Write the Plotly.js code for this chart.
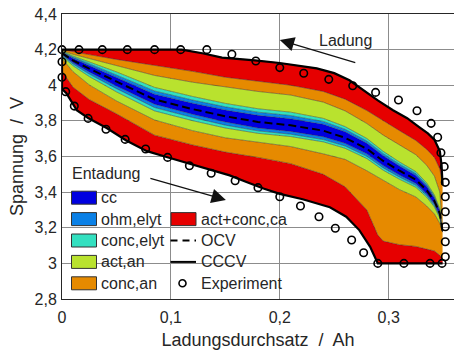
<!DOCTYPE html>
<html><head><meta charset="utf-8">
<script src="https://cdn.plot.ly/plotly-3.0.1.min.js"></script>
<style>html,body{margin:0;padding:0;background:#fff}#chart{width:455px;height:351px}</style>
</head><body><div id="chart"></div>
<script>
// shared x grid (Ah) for band boundaries
const xGrid = [0, 0.01, 0.025, 0.05, 0.085, 0.12, 0.15, 0.18, 0.21, 0.24, 0.26, 0.28, 0.295, 0.31, 0.325, 0.335, 0.342, 0.347, 0.3495];
const ocv   = [4.18, 4.14, 4.093, 4.02, 3.92, 3.866, 3.826, 3.794, 3.775, 3.745, 3.705, 3.643, 3.575, 3.52, 3.47, 3.41, 3.35, 3.28, 3.18];
// upper boundaries (charge side)
const upCc   = [4.186, 4.152, 4.111, 4.045, 3.95, 3.899, 3.861, 3.831, 3.812, 3.781, 3.739, 3.674, 3.604, 3.546, 3.494, 3.432, 3.367, 3.293, 3.182];
const upOhm  = [4.189, 4.158, 4.121, 4.059, 3.968, 3.917, 3.879, 3.849, 3.83, 3.797, 3.753, 3.687, 3.616, 3.557, 3.504, 3.441, 3.375, 3.299, 3.183];
const upConcE= [4.192, 4.164, 4.131, 4.075, 3.988, 3.937, 3.898, 3.868, 3.849, 3.814, 3.768, 3.701, 3.629, 3.569, 3.515, 3.451, 3.384, 3.306, 3.184];
const upActA = [4.195, 4.174, 4.15, 4.11, 4.055, 4.017, 3.99, 3.965, 3.945, 3.905, 3.856, 3.785, 3.72, 3.665, 3.61, 3.55, 3.49, 3.40, 3.185];
const upConcA= [4.2, 4.188, 4.172, 4.145, 4.113, 4.078, 4.045, 4.022, 4.0, 3.965, 3.922, 3.858, 3.8, 3.745, 3.69, 3.64, 3.595, 3.53, 3.44];
// lower boundaries (discharge side)
const loCc   = [4.174, 4.128, 4.075, 3.996, 3.894, 3.837, 3.794, 3.76, 3.741, 3.711, 3.674, 3.615, 3.549, 3.496, 3.449, 3.391, 3.335, 3.27, 3.178];
const loOhm  = [4.169, 4.12, 4.063, 3.981, 3.875, 3.819, 3.776, 3.744, 3.725, 3.695, 3.659, 3.601, 3.536, 3.484, 3.438, 3.381, 3.326, 3.263, 3.177];
const loConcE= [4.164, 4.11, 4.049, 3.963, 3.856, 3.801, 3.76, 3.73, 3.712, 3.682, 3.646, 3.588, 3.523, 3.472, 3.427, 3.371, 3.317, 3.255, 3.176];
const loActA = [4.15, 4.077, 4.002, 3.912, 3.805, 3.745, 3.705, 3.679, 3.656, 3.615, 3.584, 3.52, 3.465, 3.414, 3.373, 3.322, 3.278, 3.225, 3.175];
const loConcAx = [0, 0.01, 0.025, 0.05, 0.085, 0.12, 0.15, 0.18, 0.21, 0.24, 0.26, 0.28, 0.29, 0.295, 0.31, 0.325, 0.335, 0.342, 0.347, 0.3495];
const loConcA  = [4.08, 3.99, 3.92, 3.84, 3.72, 3.665, 3.625, 3.595, 3.56, 3.5, 3.43, 3.30, 3.16, 3.125, 3.105, 3.095, 3.08, 3.07, 3.045, 3.02];
// CCCV simulation curves
const chgX = [0, 0.11, 0.13, 0.147, 0.177, 0.2, 0.234, 0.25, 0.264, 0.275, 0.29, 0.304, 0.317, 0.328, 0.336, 0.342, 0.347, 0.3486, 0.3495];
const chgY = [4.2, 4.2, 4.178, 4.155, 4.14, 4.125, 4.095, 4.068, 4.028, 3.98, 3.915, 3.86, 3.815, 3.765, 3.73, 3.695, 3.63, 3.55, 3.44];
const disX = [0, 0, 0.004, 0.0135, 0.024, 0.041, 0.059, 0.078, 0.096, 0.118, 0.139, 0.154, 0.17, 0.185, 0.2, 0.221, 0.246, 0.261, 0.273, 0.283, 0.29, 0.3495];
const disY = [4.2, 3.98, 3.955, 3.86, 3.816, 3.76, 3.69, 3.63, 3.597, 3.558, 3.518, 3.494, 3.455, 3.42, 3.39, 3.36, 3.315, 3.262, 3.187, 3.093, 3.0, 3.0];
// experiment
const expChgX = [0, 0.0156, 0.037, 0.060, 0.085, 0.109, 0.133, 0.156, 0.178, 0.2, 0.222, 0.245, 0.267, 0.288, 0.309, 0.326, 0.339, 0.345, 0.348, 0.351, 0.352, 0.352, 0.352, 0.352, 0.352, 0.352, 0.349];
const expChgY = [4.2, 4.2, 4.2, 4.2, 4.2, 4.2, 4.2, 4.174, 4.136, 4.099, 4.067, 4.033, 3.997, 3.96, 3.917, 3.857, 3.786, 3.708, 3.621, 3.543, 3.455, 3.374, 3.29, 3.206, 3.121, 3.037, 3.0];
const expDisX = [0, 0, 0.0034, 0.0113, 0.024, 0.0404, 0.058, 0.0768, 0.097, 0.117, 0.137, 0.159, 0.18, 0.2, 0.219, 0.236, 0.251, 0.266, 0.277, 0.29, 0.314, 0.338];
const expDisY = [4.132, 4.045, 3.964, 3.883, 3.814, 3.753, 3.696, 3.642, 3.595, 3.548, 3.506, 3.464, 3.425, 3.374, 3.322, 3.262, 3.197, 3.131, 3.06, 3.0, 3.0, 3.0];
// ticks
const xTickVals = [0, 0.1, 0.2, 0.3];
const xTickText = ['0', '0,1', '0,2', '0,3'];
const yTickVals = [2.8, 3, 3.2, 3.4, 3.6, 3.8, 4, 4.2, 4.4];
const yTickText = ['2,8', '3', '3,2', '3,4', '3,6', '3,8', '4', '4,2', '4,4'];
const legendNames = ['cc', 'ohm,elyt', 'conc,elyt', 'act,an', 'conc,an', 'act+conc,ca', 'OCV', 'CCCV', 'Experiment'];

const C = {cc:'#0000E0', ohm:'#0A80E6', concE:'#33E0C0', actA:'#B9E22E', concA:'#E68A00', ca:'#E60000'};
const edge = {color:'rgba(40,40,40,0.75)', width:0.6};
function band(x, y, color){
  return {x:x, y:y, type:'scatter', mode:'lines', fill:'tonexty', fillcolor:color, line:edge, hoverinfo:'skip', showlegend:false};
}
const traces = [
  {x:disX, y:disY, type:'scatter', mode:'lines', line:{width:0}, hoverinfo:'skip', showlegend:false},
  band(loConcAx, loConcA, C.ca),
  band(xGrid, loActA, C.concA),
  band(xGrid, loConcE, C.actA),
  band(xGrid, loOhm, C.concE),
  band(xGrid, loCc, C.ohm),
  band(xGrid, upCc, C.cc),
  band(xGrid, upOhm, C.ohm),
  band(xGrid, upConcE, C.concE),
  band(xGrid, upActA, C.actA),
  band(xGrid, upConcA, C.concA),
  band(chgX, chgY, C.ca),
  {x:xGrid, y:ocv, type:'scatter', mode:'lines', line:{color:'#000', width:2, dash:'8px,4px'}, showlegend:false},
  {x:chgX, y:chgY, type:'scatter', mode:'lines', line:{color:'#000', width:2.2}, showlegend:false},
  {x:disX, y:disY, type:'scatter', mode:'lines', line:{color:'#000', width:2.2}, showlegend:false},
  {x:expChgX.concat(expDisX), y:expChgY.concat(expDisY), type:'scatter', mode:'markers',
   marker:{symbol:'circle-open', size:7.5, color:'#000', line:{width:1.6, color:'#000'}}, showlegend:false, cliponaxis:false}
];

const font = {family:'"Liberation Sans", Arial, sans-serif', size:16, color:'#262626'};
// legend (drawn in paper space)
const px2x = p => (p - 62) / 392;
const py2y = p => (299 - p) / 285;
const rowsY = [197.7, 219.1, 240.5, 261.9, 283.3];
const shapes = [];
const annotations = [];
const swCols = [C.cc, C.ohm, C.concE, C.actA, C.concA];
for (let i = 0; i < 5; i++) {
  shapes.push({type:'rect', xref:'paper', yref:'paper', x0:px2x(71.5), x1:px2x(96.5), y0:py2y(rowsY[i]+6.5), y1:py2y(rowsY[i]-6.5), fillcolor:swCols[i], line:{color:'#333', width:1}});
  annotations.push({xref:'paper', yref:'paper', x:px2x(98.5), y:py2y(rowsY[i]), xanchor:'left', yanchor:'middle', text:legendNames[i], showarrow:false, font:font});
}
shapes.push({type:'rect', xref:'paper', yref:'paper', x0:px2x(171), x1:px2x(196), y0:py2y(rowsY[1]+6.5), y1:py2y(rowsY[1]-6.5), fillcolor:C.ca, line:{color:'#333', width:1}});
shapes.push({type:'line', xref:'paper', yref:'paper', x0:px2x(170.5), x1:px2x(196), y0:py2y(rowsY[2]), y1:py2y(rowsY[2]), line:{color:'#000', width:2, dash:'7px,5px'}});
shapes.push({type:'line', xref:'paper', yref:'paper', x0:px2x(170.5), x1:px2x(196), y0:py2y(rowsY[3]), y1:py2y(rowsY[3]), line:{color:'#000', width:2}});
shapes.push({type:'circle', xref:'paper', yref:'paper', xsizemode:'pixel', ysizemode:'pixel', xanchor:px2x(182.5), yanchor:py2y(rowsY[4]), x0:-3.5, x1:3.5, y0:-3.5, y1:3.5, line:{color:'#000', width:1.6}});
for (let i = 5; i < 9; i++) {
  annotations.push({xref:'paper', yref:'paper', x:px2x(198.5), y:py2y(rowsY[i-4]), xanchor:'left', yanchor:'middle', text:legendNames[i], showarrow:false, font:font});
}
// direction labels
annotations.push({x:0.2606, y:4.254, text:'Ladung', showarrow:false, font:font, xanchor:'center', yanchor:'middle'});
annotations.push({x:0.2, y:4.254, text:'', showarrow:true, ax:77, ay:23, arrowhead:2, arrowsize:2.4, arrowwidth:1.2, arrowcolor:'#111'});
annotations.push({x:0.0413, y:3.502, text:'Entadung', showarrow:false, font:font, xanchor:'center', yanchor:'middle'});
annotations.push({x:0.1505, y:3.356, text:'', showarrow:true, ax:-77, ay:-22, arrowhead:2, arrowsize:2.4, arrowwidth:1.2, arrowcolor:'#111'});

const layout = {
  width:455, height:351, margin:{l:62, r:1, t:14, b:52},
  paper_bgcolor:'#fff', plot_bgcolor:'#fff', showlegend:false, font:font,
  xaxis:{range:[0,0.36], tickvals:xTickVals, ticktext:xTickText, showgrid:true, gridcolor:'#8c8c8c', gridwidth:1,
         zeroline:false, showline:true, linecolor:'#262626', linewidth:1, mirror:true, ticks:'', tickfont:font, ticklabelstandoff:4,
         title:{text:'Ladungsdurchsatz  /  Ah', font:{family:font.family, size:18, color:'#262626'}, standoff:8}, automargin:false},
  yaxis:{range:[2.8,4.4], tickvals:yTickVals, ticktext:yTickText, showgrid:true, gridcolor:'#8c8c8c', gridwidth:1,
         zeroline:false, showline:true, linecolor:'#262626', linewidth:1, ticks:'', tickfont:font, ticklabelstandoff:1,
         title:{text:'Spannung  /  V', font:{family:font.family, size:18, color:'#262626'}, standoff:6}, automargin:false},
  shapes:shapes, annotations:annotations
};
Plotly.newPlot('chart', traces, layout, {staticPlot:true, displayModeBar:false});
</script></body></html>
